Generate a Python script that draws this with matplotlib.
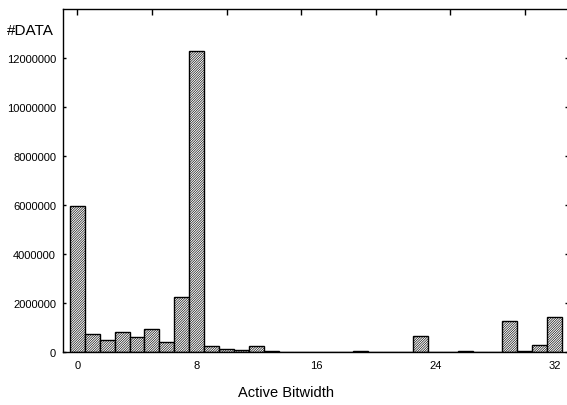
import matplotlib
matplotlib.use("Agg")
import matplotlib.pyplot as plt

plt.rcParams['font.family'] = ['Liberation Sans', 'DejaVu Sans']
plt.rcParams['hatch.linewidth'] = 0.45

bitwidth = list(range(33))
counts = [5950000, 750000, 480000, 830000, 600000, 950000, 420000, 2260000,
          12300000, 245000, 110000, 70000, 230000, 30000, 8000, 8000, 8000,
          8000, 8000, 35000, 8000, 8000, 8000, 640000, 8000, 8000, 30000,
          8000, 8000, 1270000, 50000, 270000, 1420000]
xticks = [0, 8, 16, 24, 32]
yticks = [0, 2000000, 4000000, 6000000, 8000000, 10000000, 12000000]

fig = plt.figure(figsize=(5.67, 4.06), dpi=100)
ax = fig.add_axes([63/567, (406-353)/406, 1 - 63/567 + 0.002, (353-10)/406])

ax.bar(bitwidth, counts, width=1.0, facecolor='white', edgecolor='black',
       linewidth=1.0, hatch='/' * 14)

ax.set_xlim(-0.96, 32.9)
ax.set_ylim(0, 14000000)
ax.set_xticks(xticks)
ax.set_xticklabels([str(v) for v in xticks])
ax.set_yticks(yticks)
ax.set_yticklabels([str(v) for v in yticks])
ax.tick_params(axis='both', direction='in', length=2, width=1, labelsize=8, pad=5)
ax.tick_params(axis='x', length=0, pad=6)
ax.tick_params(axis='y', right=True)
ax.spines['right'].set_visible(False)
for s in ['left', 'top', 'bottom']:
    ax.spines[s].set_linewidth(1.0)

sec = ax.secondary_xaxis('top')
sec.set_xticks([0, 5, 10, 15, 20, 25, 30])
sec.tick_params(direction='in', length=4, width=1, labelsize=0, labeltop=False)
sec.spines['top'].set_visible(False)

fig.text(286/567, 1 - 393/406, 'Active Bitwidth', fontsize=10.5, ha='center', va='center')
fig.text(7/567, 1 - 31/406, '#DATA', fontsize=11, ha='left', va='center')

fig.savefig('out.png', dpi=100)
